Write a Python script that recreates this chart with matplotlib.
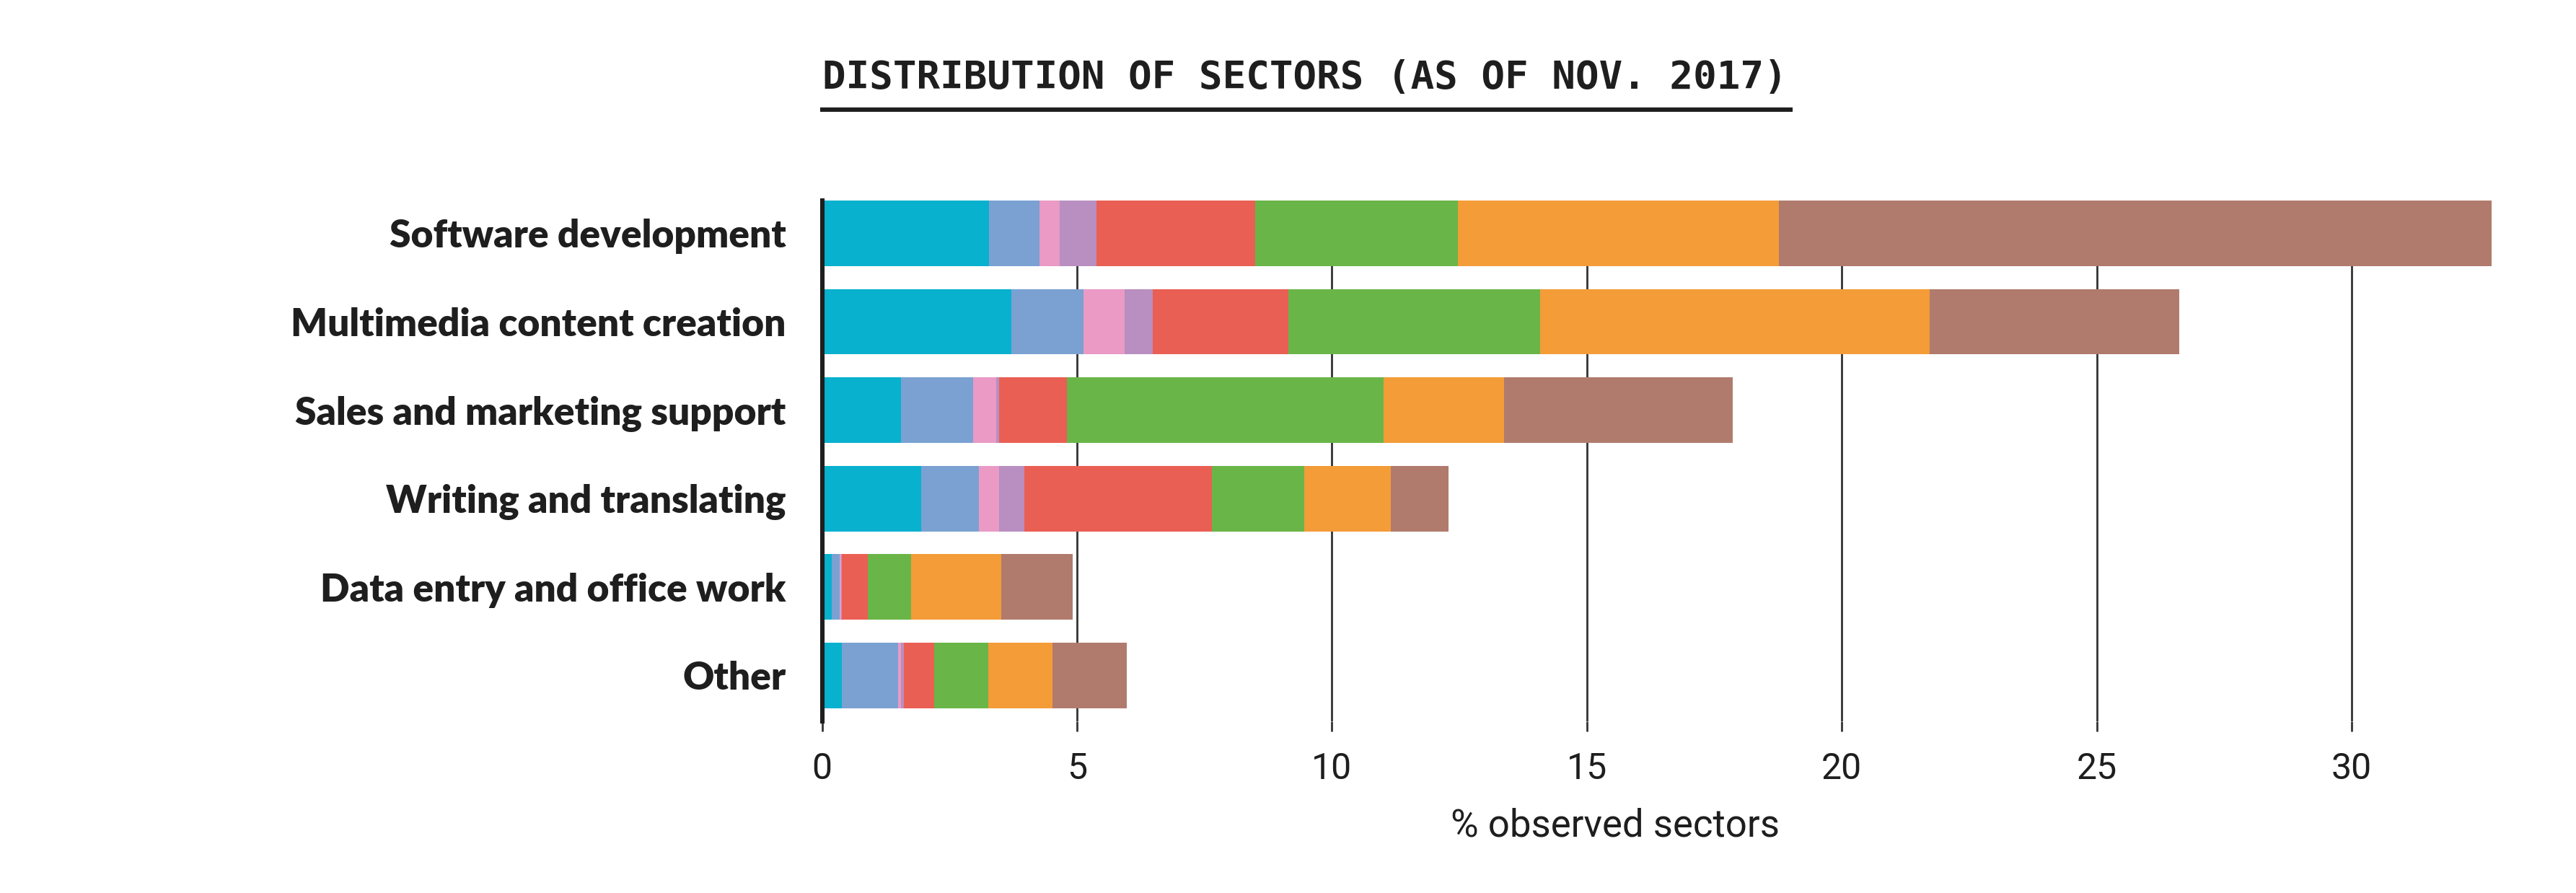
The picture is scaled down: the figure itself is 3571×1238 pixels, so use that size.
import matplotlib.pyplot as plt
import numpy as np

# sectors (top to bottom) and the stacked segments, % observed
sectors = ['Software development', 'Multimedia content creation',
           'Sales and marketing support', 'Writing and translating',
           'Data entry and office work', 'Other']

seg_cyan   = [3.27, 3.71, 1.55, 1.94, 0.19, 0.39]
seg_blue   = [0.99, 1.42, 1.41, 1.13, 0.16, 1.10]
seg_pink   = [0.40, 0.80, 0.45, 0.40, 0.02, 0.06]
seg_purple = [0.72, 0.56, 0.06, 0.50, 0.02, 0.05]
seg_red    = [3.11, 2.65, 1.34, 3.67, 0.51, 0.60]
seg_green  = [3.98, 4.94, 6.21, 1.82, 0.85, 1.06]
seg_orange = [6.30, 7.65, 2.36, 1.70, 1.77, 1.26]
seg_brown  = [13.98, 4.89, 4.48, 1.12, 1.40, 1.46]

xticks = [0, 5, 10, 15, 20, 25, 30]

segments = [seg_cyan, seg_blue, seg_pink, seg_purple,
            seg_red, seg_green, seg_orange, seg_brown]
colors = ['#08b1ce', '#7aa1d2', '#ea9ac4', '#b88fc0',
          '#ea5f54', '#6ab548', '#f39c38', '#b07b6d']

fig = plt.figure(figsize=(3571 / 200, 1238 / 200), dpi=200)
ax = fig.add_axes([0.3191, 0.1922, 0.6532, 0.5832])

y = np.arange(len(sectors))
left = np.zeros(len(sectors))
for vals, c in zip(segments, colors):
    ax.barh(y, vals, left=left, height=0.74, color=c, linewidth=0, zorder=2)
    left += np.array(vals)

ax.set_ylim(len(sectors) - 1 + 0.52, -0.37)
ax.set_xlim(0, 33)

ax.set_xticks(xticks)
ax.set_xticklabels([str(t) for t in xticks], family='Roboto', weight='normal',
                   fontsize=18, color='#1e1e1e')
ax.tick_params(axis='x', length=5, width=1, color='#333333', pad=10)
ax.set_yticks(y)
ax.set_yticklabels(sectors, family='Lato', weight='heavy',
                   fontsize=19.2, color='#1e1e1e')
ax.tick_params(axis='y', length=0, pad=18)

ax.grid(axis='x', color='#333333', linewidth=1.0, zorder=0)
ax.set_axisbelow(True)
for s in ['top', 'right', 'bottom']:
    ax.spines[s].set_visible(False)
ax.spines['left'].set_linewidth(2.2)
ax.spines['left'].set_color('#1e1e1e')
ax.spines['left'].set_zorder(3)

ax.set_xlabel('% observed sectors', family='Roboto', weight='normal',
              fontsize=19, color='#1e1e1e')
ax.xaxis.set_label_coords(15.55 / 33, -0.165)

# title with underline
fig.text(0.3191, 0.913, 'DISTRIBUTION OF SECTORS (AS OF NOV. 2017)',
         family='DejaVu Sans Mono', weight='bold', fontsize=19.5,
         color='#1e1e1e', ha='left', va='center')
fig.add_artist(plt.Line2D([0.3191, 0.695], [0.877, 0.877], color='#1e1e1e',
                          linewidth=2.2, transform=fig.transFigure))

plt.savefig('out.png', dpi=200)
plt.close()
